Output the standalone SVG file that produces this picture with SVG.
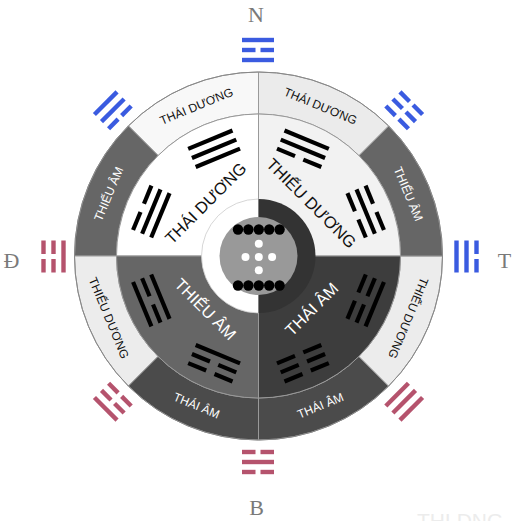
<svg xmlns="http://www.w3.org/2000/svg" width="518" height="521" viewBox="0 0 518 521">
<style>
.sec{stroke:#999;stroke-width:1}
.ol{font-family:"Liberation Sans","Noto Sans",sans-serif;font-size:12px;text-anchor:middle;dominant-baseline:central}
.il{font-family:"Liberation Sans","Noto Sans",sans-serif;font-size:16.5px;text-anchor:middle;dominant-baseline:central}
.dk{fill:#111}
.wt{fill:#fff}
.dir{font-family:"Liberation Serif","DejaVu Serif",serif;font-size:22px;fill:#7a7a7a;text-anchor:middle}
.blue{fill:#3a5be0}
.red{fill:#b5536d}
.blk{fill:#000}
</style>
<defs>
<g id="oS"><rect x="-16" y="-2.2" width="32" height="4.4"/></g>
<g id="oB"><rect x="-16" y="-2.2" width="13.5" height="4.4"/><rect x="2.5" y="-2.2" width="13.5" height="4.4"/></g>
<g id="iS"><rect x="-24" y="-2.1" width="48" height="4.2"/></g>
<g id="iB"><rect x="-24" y="-2.1" width="19.5" height="4.2"/><rect x="4.5" y="-2.1" width="19.5" height="4.2"/></g>
</defs>
<rect width="518" height="521" fill="#fff"/>

<!-- outer ring sectors -->
<g id="outer-ring">
<g id="o-n-nw"><path class="sec" fill="#f8f8f8" d="M258.5,72 A184,184 0 0 0 128.4,125.9 L158.1,155.6 A142,142 0 0 1 258.5,114 Z"/>
<text class="ol dk" transform="translate(196.5,106.3) rotate(-22.5)">THÁI DƯƠNG</text></g>
<g id="o-nw-w"><path class="sec" fill="#666" d="M128.4,125.9 A184,184 0 0 0 74.5,256 L116.5,256 A142,142 0 0 1 158.1,155.6 Z"/>
<text class="ol wt" transform="translate(108.8,194) rotate(-67.5)">THIẾU ÂM</text></g>
<g id="o-w-sw"><path class="sec" fill="#ececec" d="M74.5,256 A184,184 0 0 0 128.4,386.1 L158.1,356.4 A142,142 0 0 1 116.5,256 Z"/>
<text class="ol dk" transform="translate(108.8,318) rotate(67.5)">THIẾU DƯƠNG</text></g>
<g id="o-sw-s"><path class="sec" fill="#4b4b4b" d="M128.4,386.1 A184,184 0 0 0 258.5,440 L258.5,398 A142,142 0 0 1 158.1,356.4 Z"/>
<text class="ol wt" transform="translate(196.5,405.7) rotate(22.5)">THÁI ÂM</text></g>
<g id="o-s-se"><path class="sec" fill="#4b4b4b" d="M258.5,440 A184,184 0 0 0 388.6,386.1 L358.9,356.4 A142,142 0 0 1 258.5,398 Z"/>
<text class="ol wt" transform="translate(320.5,405.7) rotate(-22.5)">THÁI ÂM</text></g>
<g id="o-se-e"><path class="sec" fill="#ececec" d="M388.6,386.1 A184,184 0 0 0 442.5,256 L400.5,256 A142,142 0 0 1 358.9,356.4 Z"/>
<text class="ol dk" transform="translate(408.2,318) rotate(112.5)">THIẾU DƯƠNG</text></g>
<g id="o-e-ne"><path class="sec" fill="#666" d="M442.5,256 A184,184 0 0 0 388.6,125.9 L358.9,155.6 A142,142 0 0 1 400.5,256 Z"/>
<text class="ol wt" transform="translate(408.2,194) rotate(67.5)">THIẾU ÂM</text></g>
<g id="o-ne-n"><path class="sec" fill="#ebebeb" d="M388.6,125.9 A184,184 0 0 0 258.5,72 L258.5,114 A142,142 0 0 1 358.9,155.6 Z"/>
<text class="ol dk" transform="translate(320.5,106.3) rotate(22.5)">THÁI DƯƠNG</text></g>
</g>

<!-- inner quadrants -->
<g id="inner-quadrants">
<g id="q-thai-duong"><path class="sec" fill="#fff" d="M258.5,256 L258.5,114 A142,142 0 0 0 116.5,256 Z"/>
<text class="il dk" transform="translate(205.5,203) rotate(-45)">THÁI DƯƠNG</text></g>
<g id="q-thieu-duong"><path class="sec" fill="#f2f2f2" d="M258.5,256 L400.5,256 A142,142 0 0 0 258.5,114 Z"/>
<text class="il dk" transform="translate(311.5,203) rotate(45)">THIẾU DƯƠNG</text></g>
<g id="q-thieu-am"><path class="sec" fill="#666" d="M258.5,256 L116.5,256 A142,142 0 0 0 258.5,398 Z"/>
<text class="il wt" transform="translate(205.5,309) rotate(45)">THIẾU ÂM</text></g>
<g id="q-thai-am"><path class="sec" fill="#3d3d3d" d="M258.5,256 L258.5,398 A142,142 0 0 0 400.5,256 Z"/>
<text class="il wt" transform="translate(311.5,309) rotate(-45)">THÁI ÂM</text></g>
</g>
<circle cx="258.5" cy="256" r="184" fill="none" stroke="#888" stroke-width="1"/>

<!-- center -->
<g id="center">
<path d="M258.5,199 A57,57 0 0 0 258.5,313 Z" fill="#fff" stroke="#ccc" stroke-width="0.8"/>
<path d="M258.5,199 A57,57 0 0 1 258.5,313 Z" fill="#333"/>
<circle cx="258.5" cy="256" r="39" fill="#999"/>
<g fill="#000">
<circle cx="238" cy="229.5" r="5.2"/><circle cx="248.4" cy="229.5" r="5.2"/><circle cx="258.8" cy="229.5" r="5.2"/><circle cx="269.2" cy="229.5" r="5.2"/><circle cx="279.6" cy="229.5" r="5.2"/>
<circle cx="238" cy="285.5" r="5.2"/><circle cx="248.4" cy="285.5" r="5.2"/><circle cx="258.8" cy="285.5" r="5.2"/><circle cx="269.2" cy="285.5" r="5.2"/><circle cx="279.6" cy="285.5" r="5.2"/>
</g>
<g fill="#fff">
<circle cx="258.8" cy="243.7" r="4"/><circle cx="245.5" cy="257" r="4"/><circle cx="258.8" cy="257" r="4"/><circle cx="272.1" cy="257" r="4"/><circle cx="258.8" cy="270.3" r="4"/>
</g>
</g>

<!-- inner black trigrams (lines: top, middle, bottom; bottom toward centre) -->
<g id="inner-trigrams" class="blk">
<g id="t-qian" transform="translate(214.1,148.8) rotate(-22.5)"><use href="#iS" y="-9.8"/><use href="#iS"/><use href="#iS" y="9.8"/></g>
<g id="t-dui" transform="translate(151.3,211.6) rotate(-67.5)"><use href="#iB" y="-9.8"/><use href="#iS"/><use href="#iS" y="9.8"/></g>
<g id="t-xun" transform="translate(302.9,148.8) rotate(22.5)"><use href="#iS" y="-9.8"/><use href="#iS"/><use href="#iB" y="9.8"/></g>
<g id="t-kan" transform="translate(365.7,211.6) rotate(67.5)"><use href="#iB" y="-9.8"/><use href="#iS"/><use href="#iB" y="9.8"/></g>
<g id="t-li" transform="translate(151.3,300.4) rotate(-112.5)"><use href="#iS" y="-9.8"/><use href="#iB"/><use href="#iS" y="9.8"/></g>
<g id="t-zhen" transform="translate(214.1,363.2) rotate(-157.5)"><use href="#iB" y="-9.8"/><use href="#iB"/><use href="#iS" y="9.8"/></g>
<g id="t-kun" transform="translate(302.9,363.2) rotate(157.5)"><use href="#iB" y="-9.8"/><use href="#iB"/><use href="#iB" y="9.8"/></g>
<g id="t-gen" transform="translate(365.7,300.4) rotate(112.5)"><use href="#iS" y="-9.8"/><use href="#iB"/><use href="#iB" y="9.8"/></g>
</g>

<!-- outer coloured trigrams -->
<g id="outer-trigrams">
<g id="ot-n" class="blue" transform="translate(258,50)"><use href="#oS" y="-10"/><use href="#oB"/><use href="#oS" y="10"/></g>
<g id="ot-ne" class="blue" transform="translate(404.2,110.3) rotate(45)"><use href="#oB" y="-10"/><use href="#oB"/><use href="#oB" y="10"/></g>
<g id="ot-e" class="blue" transform="translate(466.5,256.5) rotate(90)"><use href="#oB" y="-10"/><use href="#oS"/><use href="#oS" y="10"/></g>
<g id="ot-nw" class="blue" transform="translate(112.8,110.3) rotate(-45)"><use href="#oS" y="-10"/><use href="#oS"/><use href="#oB" y="10"/></g>
<g id="ot-w" class="red" transform="translate(53.5,256.5) rotate(-90)"><use href="#oB" y="-10"/><use href="#oB"/><use href="#oS" y="10"/></g>
<g id="ot-sw" class="red" transform="translate(112.8,401.7) rotate(-135)"><use href="#oS" y="-10"/><use href="#oB"/><use href="#oB" y="10"/></g>
<g id="ot-s" class="red" transform="translate(258,462) rotate(180)"><use href="#oB" y="-10"/><use href="#oS"/><use href="#oB" y="10"/></g>
<g id="ot-se" class="red" transform="translate(404.2,401.7) rotate(135)"><use href="#oS" y="-10"/><use href="#oS"/><use href="#oS" y="10"/></g>
</g>

<!-- direction labels -->
<g id="dir-n"><text class="dir" x="256" y="22">N</text></g>
<g id="dir-d"><text class="dir" x="11.5" y="268">Đ</text></g>
<g id="dir-t"><text class="dir" x="504.5" y="268">T</text></g>
<g id="dir-b"><text class="dir" x="256.5" y="515">B</text></g>

<g id="watermark"><text x="417" y="528" font-family="Liberation Sans, sans-serif" font-size="21" fill="#ececec">THLDNG</text></g>
</svg>
